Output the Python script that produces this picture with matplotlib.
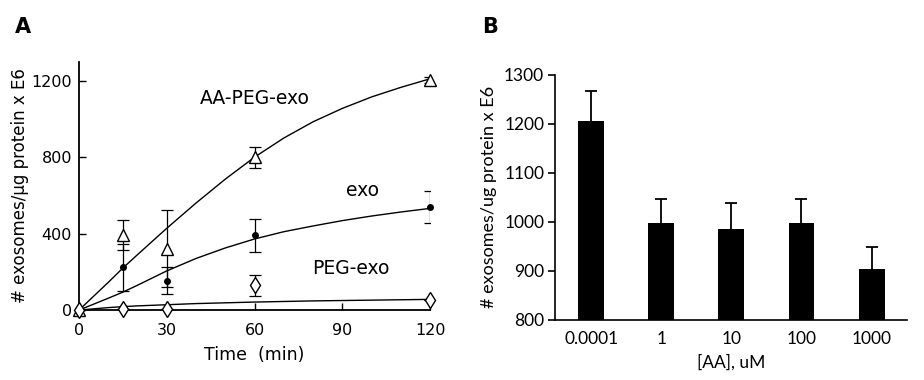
import matplotlib

matplotlib.use("Agg")

import matplotlib.pyplot as plt

# Panel A: uptake over time
time_pts = [0, 15, 30, 60, 120]
aa_peg_vals = [0, 391, 322, 800, 1205]
aa_peg_err = [0, 78, 200, 55, 15]
exo_vals = [0, 223, 153, 391, 539]
exo_err = [0, 122, 70, 88, 83]
peg_vals = [0, 8, 8, 130, 55]
peg_err = [0, 0, 0, 55, 0]

# fitted curves
curve_t = [0, 10, 15, 20, 30, 40, 50, 60, 70, 80, 90, 100, 110, 120]
aa_peg_fit = [0, 145, 220, 290, 428, 560, 685, 800, 900, 985, 1055, 1115, 1165, 1210]
exo_fit = [0, 62, 94, 130, 205, 270, 325, 372, 410, 440, 468, 492, 513, 532]
peg_fit = [0, 13, 18, 22, 28, 34, 38, 42, 45, 48, 50, 52, 54, 56]

# Panel B: dose response
aa_labels = ["0.0001", "1", "10", "100", "1000"]
aa_vals = [1205, 998, 986, 998, 904]
aa_err = [63, 49, 53, 49, 45]

FONT_A = "DejaVu Sans"
FONT_B = "Lato"

fig = plt.figure(figsize=(9.24, 3.8), dpi=100)

# ---------------- panel A ----------------
ax = fig.add_axes([0.0855, 0.184, 0.380, 0.654])
line_kw = dict(color="black", linewidth=1.0, zorder=2)
ax.plot(curve_t, aa_peg_fit, **line_kw)
ax.plot(curve_t, exo_fit, **line_kw)
ax.plot(curve_t, peg_fit, **line_kw)

eb_kw = dict(ecolor="black", elinewidth=0.9, capsize=4, capthick=0.9, linestyle="none", zorder=3)
for vals, errs, marker, face, ms in [
    (aa_peg_vals, aa_peg_err, "^", "white", 9),
    (exo_vals, exo_err, "o", "black", 4),
    (peg_vals, peg_err, "d", "white", 8.5),
]:
    ax.errorbar(time_pts, vals, yerr=errs, fmt="none", **eb_kw)
    ax.plot(time_pts, vals, linestyle="none", marker=marker, markersize=ms,
            markerfacecolor=face, markeredgecolor="black", markeredgewidth=1.0,
            clip_on=False, zorder=4)

ax.set_xlim(0, 120)
ax.set_ylim(0, 1300)
ax.set_xticks([0, 30, 60, 90, 120])
ax.set_yticks([0, 400, 800, 1200])
ax.tick_params(direction="in", length=5, width=1.0, labelsize=11.5)
ax.tick_params(axis="x", pad=9)
ax.tick_params(axis="y", pad=5)
for lab in ax.get_xticklabels() + ax.get_yticklabels():
    lab.set_family(FONT_A)
for side in ["top", "right"]:
    ax.spines[side].set_visible(False)
for side in ["left", "bottom"]:
    ax.spines[side].set_linewidth(1.3)
ax.set_xlabel("Time  (min)", fontsize=12.5, family=FONT_A, labelpad=6)
ax.set_ylabel("# exosomes/µg protein x E6", fontsize=12, family=FONT_A, labelpad=2)

ax.text(60, 1105, "AA-PEG-exo", fontsize=13.5, family=FONT_A, ha="center", va="center")
ax.text(97, 625, "exo", fontsize=13.5, family=FONT_A, ha="center", va="center")
ax.text(93, 220, "PEG-exo", fontsize=13.5, family=FONT_A, ha="center", va="center")

fig.text(0.016, 0.93, "A", fontsize=15, fontweight="bold", family=FONT_A, ha="left", va="center")

# ---------------- panel B ----------------
bx = fig.add_axes([0.601, 0.158, 0.381, 0.645])
pos = list(range(len(aa_labels)))
bx.bar(pos, aa_vals, width=0.37, bottom=0, color="black", zorder=2)
bx.errorbar(pos, aa_vals, yerr=aa_err, fmt="none",
            ecolor="black", elinewidth=1.3, capsize=4, capthick=1.3, zorder=1)
bx.set_xlim(-0.51, 4.51)
bx.set_ylim(800, 1300)
bx.set_yticks([800, 900, 1000, 1100, 1200, 1300])
bx.set_xticks(pos)
bx.set_xticklabels(aa_labels)
bx.tick_params(axis="y", direction="out", length=5, width=1.2, labelsize=12.5, pad=3)
bx.tick_params(axis="x", length=0, labelsize=12.5, pad=8)
for lab in bx.get_xticklabels() + bx.get_yticklabels():
    lab.set_family(FONT_B)
for side in ["top", "right"]:
    bx.spines[side].set_visible(False)
for side in ["left", "bottom"]:
    bx.spines[side].set_linewidth(1.2)
bx.set_xlabel("[AA], uM", fontsize=12.5, family=FONT_B, labelpad=5)
bx.set_ylabel("# exosomes/ug protein x E6", fontsize=13, family=FONT_B, labelpad=5)

fig.text(0.522, 0.93, "B", fontsize=15, fontweight="bold", family=FONT_A, ha="left", va="center")

fig.savefig("out.png", dpi=100, facecolor="white")
